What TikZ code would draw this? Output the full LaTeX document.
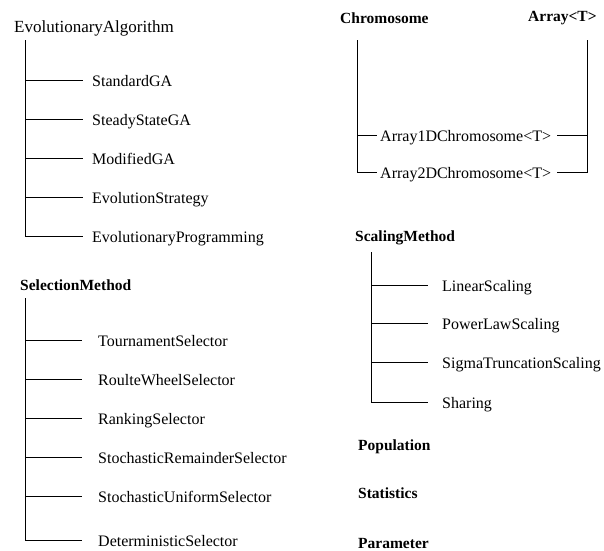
\documentclass[tikz,border=0pt]{standalone}
\usepackage{fontspec}
\setmainfont{Liberation Serif}
\begin{document}
\begin{tikzpicture}[x=1pt,y=-1pt,
  cls/.style={anchor=west,inner sep=0pt,font=\fontsize{16}{18}\selectfont,
              text height=13pt,text depth=0pt},
  head/.style={anchor=west,inner sep=0pt,font=\fontsize{15.5}{18}\selectfont\bfseries},
  link/.style={draw=black,line width=0.9pt}
]
\useasboundingbox (0,0) rectangle (604,550);

% ---- EvolutionaryAlgorithm hierarchy
\node[anchor=west,inner sep=0pt,font=\fontsize{17}{20}\selectfont] (ea) at (14,28) {EvolutionaryAlgorithm};
\coordinate (eaT) at (25,40);
\node[cls] (sga)  at (92,80)  {StandardGA};
\node[cls] (ssga) at (92,119) {SteadyStateGA};
\node[cls] (mga)  at (92,158) {ModifiedGA};
\node[cls] (es)   at (92,197) {EvolutionStrategy};
\node[cls] (ep)   at (92,236) {EvolutionaryProgramming};
\foreach \c in {sga,ssga,mga,es,ep}
  \draw[link] (eaT) |- ([xshift=-9pt]\c.west);

% ---- SelectionMethod hierarchy
\node[head] (sm) at (20,285) {SelectionMethod};
\coordinate (smT) at (25,298);
\node[cls] (ts)  at (98,340) {TournamentSelector};
\node[cls] (rw)  at (98,379) {RoulteWheelSelector};
\node[cls] (rk)  at (98,418) {RankingSelector};
\node[cls] (srs) at (98,457) {StochasticRemainderSelector};
\node[cls] (sus) at (98,496) {StochasticUniformSelector};
\node[cls] (ds)  at (98,540) {DeterministicSelector};
\foreach \c in {ts,rw,rk,srs,sus,ds}
  \draw[link] (smT) |- ([xshift=-16pt]\c.west);

% ---- Chromosome / Array<T>
\node[head] (chr) at (340,18) {Chromosome};
\node[head] (arr) at (528,18) {Array<T>};
\coordinate (chrT) at (357,40);
\coordinate (arrT) at (587,40);
\node[cls] (a1) at (380,135) {Array1DChromosome<T>};
\node[cls] (a2) at (380,172) {Array2DChromosome<T>};
\foreach \c in {a1,a2}{
  \draw[link] (chrT) |- ([xshift=-3pt]\c.west);
  \draw[link] (arrT) |- ([xshift=6pt]\c.east);
}

% ---- ScalingMethod hierarchy
\node[head] (scm) at (355,238) {ScalingMethod};
\coordinate (scmT) at (371,252);
\node[cls] (ls)  at (442,285) {LinearScaling};
\node[cls] (pls) at (442,323) {PowerLawScaling};
\node[cls] (sts) at (442,362) {SigmaTruncationScaling};
\node[cls] (sh)  at (442,402) {Sharing};
\foreach \c in {ls,pls,sts,sh}
  \draw[link] (scmT) |- ([xshift=-14pt]\c.west);

% ---- stand-alone classes
\node[head] (pop)  at (358,447) {Population};
\node[head] (stat) at (358,493) {Statistics};
\node[head] (par)  at (358,543) {Parameter};
\end{tikzpicture}
\end{document}
